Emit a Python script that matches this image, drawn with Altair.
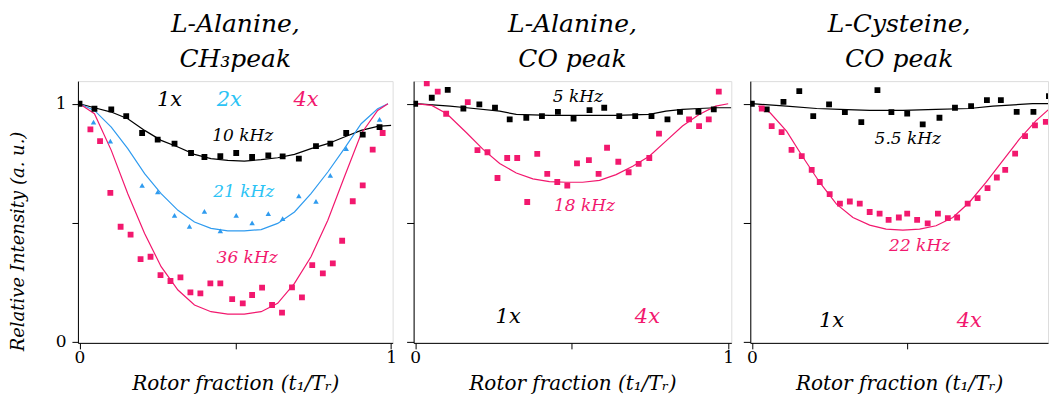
import altair as alt
import pandas as pd

FONT = "DejaVu Serif"
BLACK = "#000000"
BLUE = "#2F9BEF"
CYAN = "#2BC3F5"
PINK = "#F2186E"

# ---------------- Panel 1: L-Alanine, CH3 peak ----------------
p1_1x_pts_x = [0.0, 0.048, 0.102, 0.150, 0.201, 0.251, 0.305, 0.358, 0.401, 0.452, 0.503,
               0.554, 0.606, 0.652, 0.704, 0.759, 0.805, 0.856, 0.909, 0.963]
p1_1x_pts_y = [1.0, 0.979, 0.976, 0.948, 0.877, 0.849, 0.832, 0.793, 0.776, 0.780, 0.793,
               0.776, 0.783, 0.779, 0.769, 0.822, 0.832, 0.877, 0.870, 0.902]
p1_2x_pts_x = [0.045, 0.099, 0.201, 0.251, 0.305, 0.353, 0.401, 0.452, 0.503, 0.554, 0.606,
               0.652, 0.704, 0.759, 0.805, 0.856, 0.963]
p1_2x_pts_y = [0.923, 0.843, 0.657, 0.629, 0.531, 0.485, 0.548, 0.466, 0.531, 0.499, 0.538,
               0.517, 0.613, 0.590, 0.699, 0.811, 0.934]
p1_4x_pts_x = [0.035, 0.066, 0.099, 0.132, 0.164, 0.196, 0.228, 0.260, 0.292, 0.324, 0.356,
               0.388, 0.420, 0.452, 0.490, 0.524, 0.554, 0.586, 0.618, 0.650, 0.682, 0.714,
               0.747, 0.781, 0.813, 0.843, 0.877, 0.909, 0.941, 0.973]
p1_4x_pts_y = [0.892, 0.843, 0.625, 0.483, 0.450, 0.347, 0.357, 0.280, 0.255, 0.270, 0.207,
               0.203, 0.245, 0.245, 0.179, 0.161, 0.196, 0.227, 0.154, 0.122, 0.228, 0.186,
               0.322, 0.287, 0.329, 0.424, 0.590, 0.657, 0.807, 0.877]
p1_1x_fit_x = [0.0, 0.048, 0.102, 0.155, 0.209, 0.262, 0.316, 0.369, 0.422, 0.476, 0.529,
               0.583, 0.636, 0.690, 0.743, 0.797, 0.850, 0.904, 0.957, 1.0]
p1_1x_fit_y = [1.0, 0.983, 0.965, 0.937, 0.888, 0.846, 0.818, 0.787, 0.769, 0.762, 0.759,
               0.765, 0.773, 0.787, 0.811, 0.832, 0.860, 0.888, 0.905, 0.909]
p1_2x_fit_x = [0.0, 0.048, 0.102, 0.155, 0.209, 0.262, 0.316, 0.369, 0.422, 0.476, 0.529,
               0.583, 0.636, 0.690, 0.743, 0.797, 0.850, 0.904, 0.957, 0.99]
p1_2x_fit_y = [1.0, 0.972, 0.902, 0.811, 0.706, 0.622, 0.552, 0.503, 0.476, 0.466, 0.466,
               0.471, 0.497, 0.545, 0.622, 0.713, 0.811, 0.916, 0.979, 1.0]
p1_4x_fit_x = [0.0, 0.048, 0.102, 0.155, 0.209, 0.262, 0.316, 0.369, 0.422, 0.476, 0.529,
               0.583, 0.636, 0.690, 0.743, 0.797, 0.850, 0.904, 0.957, 0.99]
p1_4x_fit_y = [1.0, 0.958, 0.804, 0.622, 0.455, 0.315, 0.217, 0.154, 0.126, 0.116, 0.116,
               0.126, 0.161, 0.245, 0.357, 0.510, 0.692, 0.874, 0.972, 1.0]
p1_text = ["1x", "2x", "4x", "10 kHz", "21 kHz", "36 kHz"]
p1_text_x = [0.289, 0.481, 0.727, 0.524, 0.527, 0.538]
p1_text_y = [1.014, 1.014, 1.014, 0.864, 0.629, 0.350]
p1_text_c = [BLACK, CYAN, PINK, BLACK, CYAN, PINK]
p1_text_s = [21, 21, 21, 17, 17, 17]

# ---------------- Panel 2: L-Alanine, CO peak ----------------
p2_1x_pts_x = [0.0, 0.053, 0.104, 0.154, 0.205, 0.255, 0.302, 0.355, 0.405, 0.456, 0.506,
               0.557, 0.604, 0.652, 0.703, 0.755, 0.806, 0.846, 0.905, 0.954]
p2_1x_pts_y = [1.0, 1.025, 1.058, 0.980, 0.997, 0.983, 0.934, 0.941, 0.948, 0.966, 0.938,
               0.973, 0.983, 0.948, 0.948, 0.948, 0.934, 0.966, 0.966, 0.976]
p2_4x_pts_x = [0.037, 0.072, 0.099, 0.168, 0.199, 0.231, 0.263, 0.294, 0.326, 0.358, 0.390,
               0.422, 0.454, 0.486, 0.517, 0.555, 0.586, 0.613, 0.649, 0.682, 0.714, 0.748,
               0.779, 0.875, 0.907, 0.938, 0.970]
p2_4x_pts_y = [1.086, 1.051, 0.958, 1.007, 0.805, 0.796, 0.688, 0.772, 0.772, 0.587, 0.789,
               0.705, 0.671, 0.656, 0.749, 0.763, 0.705, 0.815, 0.756, 0.712, 0.747, 0.772,
               0.874, 0.934, 0.906, 0.934, 1.051]
p2_1x_fit_x = [0.0, 0.111, 0.164, 0.270, 0.323, 0.429, 0.535, 0.642, 0.748, 0.801, 0.854,
               0.907, 0.960, 1.01]
p2_1x_fit_y = [1.0, 0.990, 0.983, 0.969, 0.955, 0.951, 0.951, 0.951, 0.955, 0.969, 0.976,
               0.980, 0.983, 0.983]
p2_4x_fit_x = [0.0, 0.053, 0.101, 0.164, 0.217, 0.270, 0.323, 0.376, 0.429, 0.482, 0.535,
               0.589, 0.642, 0.695, 0.748, 0.801, 0.854, 0.907, 0.960, 1.0]
p2_4x_fit_y = [1.0, 0.993, 0.958, 0.878, 0.808, 0.749, 0.709, 0.684, 0.673, 0.670, 0.670,
               0.678, 0.702, 0.737, 0.779, 0.843, 0.906, 0.955, 0.990, 1.0]
p2_text = ["5 kHz", "18 kHz", "1x", "4x"]
p2_text_x = [0.52, 0.541, 0.297, 0.742]
p2_text_y = [1.03, 0.569, 0.105, 0.105]
p2_text_c = [BLACK, PINK, BLACK, PINK]
p2_text_s = [17, 17, 21, 21]

# ---------------- Panel 3: L-Cysteine, CO peak ----------------
p3_1x_pts_x = [0.0, 0.048, 0.102, 0.153, 0.198, 0.249, 0.300, 0.353, 0.405, 0.450, 0.501,
               0.551, 0.605, 0.655, 0.707, 0.758, 0.803, 0.854, 0.908, 0.958]
p3_1x_pts_y = [1.0, 0.976, 1.008, 1.053, 0.948, 0.997, 0.965, 0.923, 1.057, 0.965, 0.959,
               0.913, 0.941, 0.983, 0.990, 1.015, 1.015, 0.966, 0.966, 1.032]
p3_4x_pts_x = [0.032, 0.064, 0.096, 0.128, 0.161, 0.193, 0.219, 0.251, 0.284, 0.316, 0.348,
               0.380, 0.412, 0.441, 0.474, 0.501, 0.533, 0.567, 0.600, 0.632, 0.662, 0.696,
               0.728, 0.760, 0.790, 0.817, 0.849, 0.881, 0.913, 0.948, 0.980]
p3_4x_pts_y = [0.980, 0.906, 0.881, 0.806, 0.780, 0.722, 0.671, 0.620, 0.580, 0.589, 0.580,
               0.545, 0.538, 0.512, 0.522, 0.538, 0.512, 0.497, 0.538, 0.519, 0.522, 0.580,
               0.603, 0.645, 0.690, 0.722, 0.790, 0.864, 0.909, 0.924, 0.969]
p3_1x_fit_x = [0.0, 0.112, 0.209, 0.284, 0.380, 0.487, 0.594, 0.701, 0.777, 0.905, 1.0]
p3_1x_fit_y = [1.0, 0.990, 0.980, 0.976, 0.972, 0.972, 0.976, 0.980, 0.990, 1.0, 1.0]
p3_4x_fit_x = [0.021, 0.059, 0.112, 0.166, 0.219, 0.273, 0.326, 0.380, 0.433, 0.487, 0.541,
               0.594, 0.648, 0.701, 0.755, 0.808, 0.862, 0.915, 0.969]
p3_4x_fit_y = [0.990, 0.962, 0.885, 0.773, 0.669, 0.578, 0.522, 0.490, 0.473, 0.469, 0.473,
               0.487, 0.522, 0.585, 0.669, 0.759, 0.850, 0.927, 0.990]
p3_text = ["5.5 kHz", "22 kHz", "1x", "4x"]
p3_text_x = [0.503, 0.541, 0.257, 0.701]
p3_text_y = [0.853, 0.400, 0.088, 0.088]
p3_text_c = [BLACK, PINK, BLACK, PINK]
p3_text_s = [17, 17, 21, 21]

SERIES = ["1x", "2x", "4x"]
COLORS = [BLACK, BLUE, PINK]


def df(series, xs, ys):
    return pd.DataFrame({"x": xs, "y": ys, "s": series})


def panel(title, fits, squares, triangles, texts, width, xmax, show_ylabels):
    xsc = alt.Scale(domain=[-0.005, xmax], nice=False, zero=False)
    ysc = alt.Scale(domain=[-0.005, 1.095], nice=False, zero=False)
    xaxis = alt.Axis(values=[0, 0.5, 1], labelExpr="datum.value == 0.5 ? '' : format(datum.value, 'd')",
                     title="Rotor fraction (t\u2081/T\u1d63)", grid=False, tickSize=6,
                     labelFont=FONT, labelFontSize=17, titleFont=FONT, titleFontSize=20,
                     titleFontStyle="italic", titleFontWeight="normal", titlePadding=8,
                     domainColor=BLACK, tickColor=BLACK, labelColor=BLACK, titleColor=BLACK,
                     labelPadding=1, labelFlush=False)
    if show_ylabels:
        yaxis = alt.Axis(values=[0, 0.5, 1], labelExpr="datum.value == 0.5 ? '' : format(datum.value, 'd')",
                         title="Relative Intensity (a. u.)", grid=False, tickSize=6,
                         labelFont=FONT, labelFontSize=17, titleFont=FONT, titleFontSize=18,
                         titleFontStyle="italic", titleFontWeight="normal", titlePadding=28,
                         domainColor=BLACK, tickColor=BLACK, labelColor=BLACK, titleColor=BLACK,
                         labelPadding=6, titleY=160)
    else:
        yaxis = alt.Axis(values=[0, 0.5, 1], labels=False, title=None, grid=False, tickSize=7,
                         domainColor=BLACK, tickColor=BLACK)
    cscale = alt.Scale(domain=SERIES, range=COLORS)
    base_x = alt.X("x:Q", scale=xsc, axis=xaxis)
    base_y = alt.Y("y:Q", scale=ysc, axis=yaxis)

    fit_df = pd.concat([df(s, xs, ys) for s, xs, ys in fits])
    sq_df = pd.concat([df(s, xs, ys) for s, xs, ys in squares])
    layers = [
        alt.Chart(fit_df).mark_line(strokeWidth=1.2, clip=True).encode(
            x=base_x, y=base_y, color=alt.Color("s:N", scale=cscale, legend=None), detail="s:N"),
        alt.Chart(sq_df).mark_point(shape="square", filled=True, size=34, opacity=1, clip=True).encode(
            x=base_x, y=base_y, color=alt.Color("s:N", scale=cscale, legend=None)),
    ]
    if triangles:
        tr_df = pd.concat([df(s, xs, ys) for s, xs, ys in triangles])
        layers.append(alt.Chart(tr_df).mark_point(shape="triangle-up", filled=True, size=30,
                                                  opacity=1, clip=True).encode(
            x=base_x, y=base_y, color=alt.Color("s:N", scale=cscale, legend=None)))
    t, tx, ty, tc, ts = texts
    txt_df = pd.DataFrame({"t": t, "x": tx, "y": ty, "c": tc, "fs": ts})
    layers.append(alt.Chart(txt_df).mark_text(font=FONT, fontStyle="italic", baseline="middle",
                                              align="center").encode(
        x=base_x, y=base_y, text="t:N", color=alt.Color("c:N", scale=None),
        size=alt.Size("fs:Q", scale=None)))
    return alt.layer(*layers).properties(
        width=width, height=262,
        title=alt.TitleParams(text=title, font=FONT, fontSize=25, fontStyle="italic",
                              fontWeight="normal", anchor="middle", offset=9, lineHeight=35,
                              color=BLACK))


c1 = panel(["L-Alanine,", "CH\u2083peak"],
           [("1x", p1_1x_fit_x, p1_1x_fit_y), ("2x", p1_2x_fit_x, p1_2x_fit_y), ("4x", p1_4x_fit_x, p1_4x_fit_y)],
           [("1x", p1_1x_pts_x, p1_1x_pts_y), ("4x", p1_4x_pts_x, p1_4x_pts_y)],
           [("2x", p1_2x_pts_x, p1_2x_pts_y)],
           (p1_text, p1_text_x, p1_text_y, p1_text_c, p1_text_s), 315, 1.005, True)
c2 = panel(["L-Alanine,", "CO peak"],
           [("1x", p2_1x_fit_x, p2_1x_fit_y), ("4x", p2_4x_fit_x, p2_4x_fit_y)],
           [("1x", p2_1x_pts_x, p2_1x_pts_y), ("4x", p2_4x_pts_x, p2_4x_pts_y)],
           None,
           (p2_text, p2_text_x, p2_text_y, p2_text_c, p2_text_s), 318, 1.01, False)
c3 = panel(["L-Cysteine,", "CO peak"],
           [("1x", p3_1x_fit_x, p3_1x_fit_y), ("4x", p3_4x_fit_x, p3_4x_fit_y)],
           [("1x", p3_1x_pts_x, p3_1x_pts_y), ("4x", p3_4x_pts_x, p3_4x_pts_y)],
           None,
           (p3_text, p3_text_x, p3_text_y, p3_text_c, p3_text_s), 298, 0.955, False)

chart = alt.hconcat(c1, c2, c3, spacing=8).resolve_scale(color="independent").configure_view(
    stroke=BLACK, strokeWidth=1.2).configure(padding={"left": 0, "top": 3, "right": 0, "bottom": 0},
                                             background="white")

chart.save("out.html", embed_options={"renderer": "svg", "actions": False})
